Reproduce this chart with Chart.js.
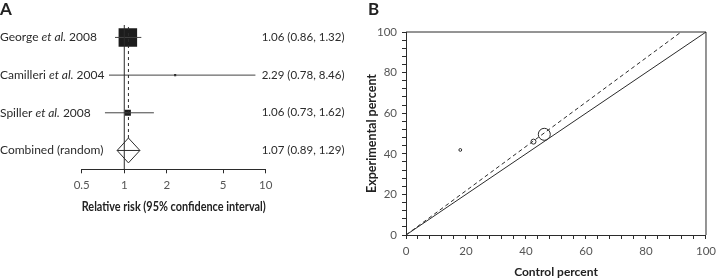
<!DOCTYPE html>
<html>
<head>
<meta charset="utf-8">
<script src="https://cdn.jsdelivr.net/npm/chart.js@4"></script>
<style>
  body { margin: 0; background: #fff; width: 721px; height: 279px; overflow: hidden; position: relative; }
  #boxA { position: absolute; left: 0; top: 0; width: 360px; height: 279px; }
  #boxB { position: absolute; left: 360px; top: 0; width: 361px; height: 279px; }
</style>
</head>
<body>
<div id="boxA"><canvas id="chartA"></canvas></div>
<div id="boxB"><canvas id="chartB"></canvas></div>
<script>
// A: forest plot
let studyAuthors = ["George", "Camilleri", "Spiller"]
let studyYears = ["2008", "2004", "2008"]
let studyRR = [1.06, 2.29, 1.06]
let studyLow = [0.86, 0.78, 0.73]
let studyHigh = [1.32, 8.46, 1.62]
let pooledLabel = "Combined (random)"
let pooledRR = 1.07
let pooledLow = 0.89
let pooledHigh = 1.29
let rrTicks = [0.5, 1, 2, 5, 10]

// B: control vs experimental percent
let controlPct = [46.1, 18.1, 42.5]
let experimentalPct = [49.6, 41.9, 46.0]
let pooledLineX = [0, 91.7]
let pooledLineY = [0, 100]
let pctLabelStep = 20

const FONT = "Lato"
const INK = "#2b2b2b"

// rows: studies from top, pooled at the bottom
function rowOf(i) { return studyRR.length - i }

let ciSets = studyRR.map((v, i) => ({
  data: [{ x: studyLow[i], y: rowOf(i) }, { x: studyHigh[i], y: rowOf(i) }],
  showLine: true, borderColor: "#444", borderWidth: 1, pointRadius: 0
}))

let forestPlugin = {
  id: "forestText",
  afterDraw(chart) {
    let ctx = chart.ctx
    let ys = chart.scales.y
    let right = chart.chartArea.right - 4
    ctx.save()
    ctx.fillStyle = INK
    ctx.textBaseline = "middle"
    ctx.textAlign = "left"
    let fs = "12px " + FONT
    let fi = "italic 12px " + FONT
    studyAuthors.forEach((a, i) => {
      let y = ys.getPixelForValue(rowOf(i))
      let x = 0
      ctx.font = fs
      ctx.fillText(a + " ", x, y)
      x += ctx.measureText(a + " ").width
      ctx.font = fi
      ctx.fillText("et al.", x, y)
      x += ctx.measureText("et al.").width
      ctx.font = fs
      ctx.fillText(" " + studyYears[i], x, y)
      ctx.font = "11.5px " + FONT
      ctx.fillText(studyRR[i].toFixed(2) + " (" + studyLow[i].toFixed(2) + ", " + studyHigh[i].toFixed(2) + ")", right, y)
    })
    let yp = ys.getPixelForValue(0)
    ctx.font = fs
    ctx.fillText(pooledLabel, 0, yp)
    ctx.font = "11.5px " + FONT
    ctx.fillText(pooledRR.toFixed(2) + " (" + pooledLow.toFixed(2) + ", " + pooledHigh.toFixed(2) + ")", right, yp)
    ctx.font = "bold 17px " + FONT
    ctx.textBaseline = "top"
    ctx.fillStyle = "#222"
    ctx.fillText("A", 0, 1)
    ctx.restore()
  }
}

new Chart(document.getElementById("chartA"), {
  type: "scatter",
  data: {
    datasets: [
      { data: [{ x: 1, y: -0.5 }, { x: 1, y: 3.33 }], showLine: true, borderColor: INK, borderWidth: 1, pointRadius: 0 },
      { data: [{ x: pooledRR, y: 0.33 }, { x: pooledRR, y: 3.33 }], showLine: true, borderColor: INK, borderWidth: 1, borderDash: [3, 3], pointRadius: 0 },
      ...ciSets,
      {
        data: studyRR.map((v, i) => ({ x: v, y: rowOf(i) })),
        pointStyle: "rect", pointRadius: [13.1, 1.5, 4.3],
        backgroundColor: "#1c1c1c", borderColor: "#1c1c1c", borderWidth: 0
      },
      {
        data: [{ x: pooledLow, y: 0 }, { x: pooledRR, y: 0.33 }, { x: pooledHigh, y: 0 }, { x: pooledRR, y: -0.33 }, { x: pooledLow, y: 0 }, { x: pooledHigh, y: 0 }],
        showLine: true, borderColor: INK, borderWidth: 1, pointRadius: 0
      }
    ]
  },
  options: {
    responsive: true,
    maintainAspectRatio: false,
    animation: false,
    layout: { padding: { left: 81.7, right: 94.3, top: 25, bottom: 64.4 } },
    plugins: { legend: { display: false }, tooltip: { enabled: false } },
    scales: {
      x: {
        type: "logarithmic", min: 0.5, max: 10,
        afterBuildTicks: s => { s.ticks = rrTicks.map(v => ({ value: v })) },
        afterFit: s => { s.height = 45.3 },
        ticks: { callback: v => String(v), color: "#555", font: { family: FONT, size: 11.5 }, padding: 5, autoSkip: false, maxRotation: 0 },
        grid: { display: true, drawOnChartArea: false, drawTicks: true, tickLength: 4, color: INK },
        border: { display: true, color: INK },
        title: { display: true, text: "Relative risk (95% confidence interval)", color: "#222", font: { family: FONT, size: 12.8, weight: "bold" }, padding: { top: 0, bottom: 0 } }
      },
      y: { type: "linear", display: false, min: -0.5, max: 3.33 }
    }
  },
  plugins: [forestPlugin]
})

let framePlugin = {
  id: "frame",
  afterDraw(chart) {
    let ctx = chart.ctx
    let a = chart.chartArea
    ctx.save()
    ctx.strokeStyle = INK
    ctx.lineWidth = 1
    ctx.beginPath()
    ctx.moveTo(a.left, a.top)
    ctx.lineTo(a.right, a.top)
    ctx.lineTo(a.right, a.bottom)
    ctx.stroke()
    ctx.font = "bold 17px " + FONT
    ctx.textBaseline = "top"
    ctx.fillStyle = "#222"
    ctx.fillText("B", 8, 1)
    ctx.restore()
  }
}

let pctAxis = (title, size, fit, pad) => ({
  type: "linear", min: 0, max: 100,
  afterFit: fit,
  ticks: {
    stepSize: 4, autoSkip: false, maxRotation: 0, padding: 5,
    callback: v => (v % pctLabelStep === 0 ? String(v) : ""),
    color: "#555", font: { family: FONT, size: 11.5 }
  },
  grid: { display: true, drawOnChartArea: false, drawTicks: true, tickLength: 4, color: INK },
  border: { display: true, color: INK },
  title: { display: true, text: title, color: "#222", font: { family: FONT, size: size, weight: "bold" }, padding: pad }
})

new Chart(document.getElementById("chartB"), {
  type: "scatter",
  data: {
    datasets: [
      { data: [{ x: 0, y: 0 }, { x: 100, y: 100 }], showLine: true, borderColor: INK, borderWidth: 1, pointRadius: 0 },
      { data: pooledLineX.map((x, i) => ({ x: x, y: pooledLineY[i] })), showLine: true, borderColor: INK, borderWidth: 1, borderDash: [4, 3], pointRadius: 0 },
      {
        data: controlPct.map((x, i) => ({ x: x, y: experimentalPct[i] })),
        pointStyle: "circle", pointRadius: [6, 1.4, 2.5],
        borderColor: INK, borderWidth: 1, backgroundColor: "rgba(255,255,255,0)"
      }
    ]
  },
  options: {
    responsive: true,
    maintainAspectRatio: false,
    animation: false,
    layout: { padding: { left: 0, right: 10, top: 32, bottom: 0 } },
    plugins: { legend: { display: false }, tooltip: { enabled: false } },
    scales: {
      x: pctAxis("Control percent", 12, s => { s.height = 44 }, { top: 0, bottom: 0 }),
      y: pctAxis("Experimental percent", 12.5, s => { s.width = 46 }, { top: 4.8, bottom: 0 })
    }
  },
  plugins: [framePlugin]
})
</script>
</body>
</html>
